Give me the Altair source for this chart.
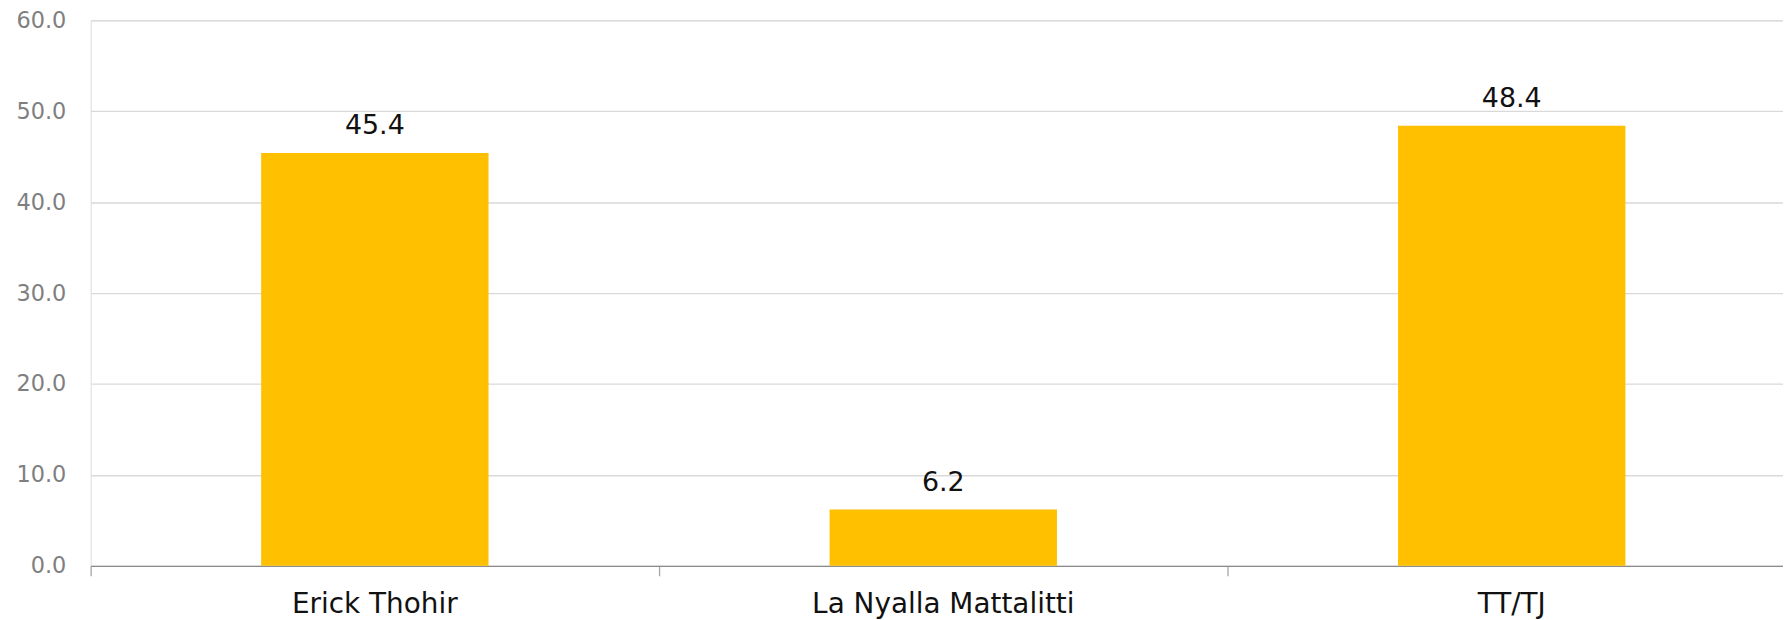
import altair as alt
import pandas as pd

categories = ["Erick Thohir", "La Nyalla Mattalitti", "TT/TJ"]
values = [45.4, 6.2, 48.4]
y_ticks = [0, 10, 20, 30, 40, 50, 60]

df = pd.DataFrame({"cat": categories, "val": values})

FONT = "DejaVu Sans"

x_enc = alt.X(
    "cat:N",
    sort=categories,
    title=None,
    scale=alt.Scale(paddingInner=0, paddingOuter=0),
    axis=alt.Axis(
        labelAngle=0,
        labelFont=FONT,
        labelFontSize=28,
        labelColor="#111111",
        labelPadding=15,
        labelLimit=0,
        domainColor="#8c8c8c",
        domainWidth=1.3,
        tickColor="#a6a6a6",
        tickSize=10,
        tickWidth=1.3,
        bandPosition=0,
        grid=False,
    ),
)

y_enc = alt.Y(
    "val:Q",
    title=None,
    scale=alt.Scale(domain=[0, 60], nice=False),
    axis=alt.Axis(
        values=y_ticks,
        format=".1f",
        labelFont=FONT,
        labelFontSize=22.5,
        labelColor="#7f7f7f",
        labelPadding=25,
        ticks=False,
        domain=False,
        gridColor="#d9d9d9",
        gridWidth=1.3,
    ),
)

bars = alt.Chart(df).mark_bar(color="#FFC000", width=alt.RelativeBandSize(0.4)).encode(
    x=x_enc, y=y_enc
)

labels = alt.Chart(df).mark_text(
    font=FONT, fontSize=27, color="#111111", baseline="alphabetic", dy=-19
).encode(
    x=alt.X("cat:N", sort=categories),
    y="val:Q",
    text=alt.Text("val:Q", format=".1f"),
)

chart = (
    alt.layer(bars, labels)
    .properties(
        width=1713,
        height=548,
        autosize=alt.AutoSizeParams(type="none"),
        padding={"left": 83, "top": 11, "right": -13, "bottom": 53},
    )
    .configure_view(stroke=None)
    .configure(background="white")
)

chart.save("out.html", embed_options={"renderer": "svg", "actions": False})
